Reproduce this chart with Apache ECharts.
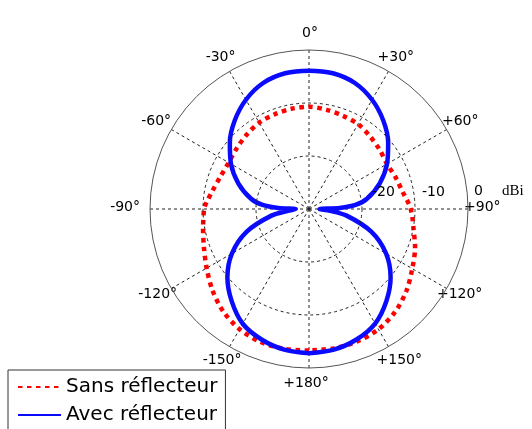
<!DOCTYPE html>
<html>
<head>
<meta charset="utf-8">
<script src="https://cdn.jsdelivr.net/npm/echarts@6/dist/echarts.min.js"></script>
<style>
  html, body { margin: 0; padding: 0; background: #fff; }
  #chart { width: 532px; height: 429px; }
</style>
</head>
<body>
<div id="chart"></div>
<script>
// Azimuth of each sample, degrees (0 = top, positive clockwise)
const angles = [-180, -170, -160, -150, -140, -130, -120, -110, -100, -95, -90, -88, -85, -80,
  -70, -60, -50, -40, -30, -20, -10, 0, 10, 20, 30, 40, 50, 60, 70, 80, 85, 88, 90, 95,
  100, 110, 120, 130, 140, 150, 160, 170, 180];

// Gain in dBi, without reflector
const sansReflecteur = [-3.3, -3.2, -3.3, -3.8, -4.8, -6.2, -7.7, -8.9, -9.7, -10.0, -10.2, -10.4, -10.8, -11.4,
  -12.2, -12.5, -12.2, -11.7, -11.2, -11.0, -10.8, -10.7, -11.0, -11.3, -11.5, -12.1, -12.6, -13.0, -12.6, -12.0, -11.4, -11.0, -10.8, -10.4,
  -10.0, -8.7, -7.5, -6.0, -4.7, -3.8, -3.4, -3.3, -3.3];

// Gain in dBi, with reflector
const avecReflecteur = [-2.77, -3.05, -3.8, -5.0, -7.3, -9.9, -13.2, -17.5, -22.8, -26.0, -27.5, -24.2, -21.2, -18.9,
  -15.8, -13.0, -10.5, -8.2, -6.2, -4.7, -4.0, -3.9, -4.0, -4.7, -6.2, -8.2, -10.5, -13.0, -15.8, -18.9, -21.2, -24.2, -28.0, -26.0,
  -22.8, -17.5, -13.2, -9.9, -7.3, -5.05, -3.8, -3.05, -2.77];

// Radial rings (dBi) and azimuth tick labels
const radialTicks = [-30, -20, -10, 0];
const angleTickLabels = ['0°', '+30°', '+60°', '+90°', '+120°', '+150°', '+180°', '-150°', '-120°', '-90°', '-60°', '-30°'];
const seriesNames = ['Sans réflecteur', 'Avec réflecteur'];

// The angle axis runs 90..450 clockwise from the right so that the radial
// axis (and its dBi labels) lies along +90°.
const toAxisAngle = d => (d < 90 ? d + 360 : d);
const toPairs = vals => angles.map((a, i) => [vals[i], toAxisAngle(a)]);

// Per-label offsets that centre each azimuth label on a ring just outside the plot
const labelPad = {
  '0°': [0, 0, 34, 2], '+30°': [0, 0, 28, 1], '-30°': [0, 6, 28, 0],
  '+60°': [0, 0, 13, 16], '-60°': [0, 21, 13, 0],
  '+90°': [0, 0, 3, 20], '-90°': [0, 34, 3, 0],
  '+120°': [10.5, 0, 0, 11], '-120°': [10.5, 15, 0, 0],
  '+150°': [27.5, 0, 0, 0], '-150°': [27.5, 0, 0, 0],
  '+180°': [32.5, 6, 0, 0]
};
const angleFont = { fontFamily: 'DejaVu Sans', fontSize: 14, color: '#000' };
const angleRich = {};
angleTickLabels.forEach((t, i) => {
  angleRich['a' + i] = Object.assign({ padding: labelPad[t] }, angleFont);
});
function angleLabel(v) {
  let d = ((v % 360) + 360) % 360;
  if (d > 180) d -= 360;
  const txt = d > 0 ? '+' + d + '°' : d + '°';
  const idx = angleTickLabels.indexOf(txt);
  return '{a' + idx + '|' + txt + '}';
}

const radFont = { fontFamily: 'DejaVu Sans', fontSize: 14, color: '#000' };
function radialLabel(v) {
  if (v === radialTicks[0]) return '';
  if (v === 0) return '{z|0}{u|dBi}';
  return '{r' + (-v) + '|' + v + '}';
}

const chart = echarts.init(document.getElementById('chart'), null, { renderer: 'canvas' });
chart.setOption({
  animation: false,
  backgroundColor: '#fff',
  polar: { center: [309, 209], radius: 159 },
  angleAxis: {
    type: 'value',
    min: 90,
    max: 450,
    interval: 30,
    startAngle: 0,
    clockwise: true,
    axisLine: { show: true, lineStyle: { color: '#555', width: 1 } },
    axisTick: { show: false },
    splitLine: { show: true, lineStyle: { color: '#222', width: 1, type: [3, 3] } },
    axisLabel: { margin: -24, formatter: angleLabel, rich: angleRich }
  },
  radiusAxis: {
    type: 'value',
    z: 10,
    min: radialTicks[0],
    max: radialTicks[radialTicks.length - 1],
    interval: 10,
    axisLine: { show: false },
    axisTick: { show: false },
    splitLine: {
      show: true,
      lineStyle: { color: ['#222', '#222', '#222', 'rgba(0,0,0,0)'], width: 1, type: [3, 3] }
    },
    axisLabel: {
      margin: 10,
      align: 'left',
      verticalAlign: 'bottom',
      formatter: radialLabel,
      rich: {
        r20: Object.assign({ padding: [0, 0, 0, 10] }, radFont),
        r10: Object.assign({ padding: [0, 0, 0, 7] }, radFont),
        z: Object.assign({ padding: [0, 0, 0, 6] }, radFont),
        u: { fontFamily: 'Liberation Serif', fontSize: 15, color: '#000', padding: [0, 0, 0, 19] }
      }
    }
  },
  legend: {
    orient: 'vertical',
    left: 8,
    top: 370,
    height: 120,
    data: seriesNames,
    itemWidth: 43,
    itemHeight: 14,
    itemGap: 8,
    padding: [7, 8, 14, 9],
    borderColor: '#333',
    borderWidth: 1,
    borderRadius: 0,
    backgroundColor: '#fff',
    itemStyle: { color: 'rgba(0,0,0,0)', borderWidth: 0 },
    textStyle: { fontFamily: 'DejaVu Sans', fontSize: 20, color: '#000' }
  },
  series: [
    {
      name: seriesNames[0],
      type: 'line',
      coordinateSystem: 'polar',
      data: toPairs(sansReflecteur),
      symbol: 'none',
      smooth: 0.3,
      clip: false,
      lineStyle: { color: '#ff0000', width: 4.5, type: [4.5, 4.5], cap: 'butt' },
      itemStyle: { color: '#ff0000' }
    },
    {
      name: seriesNames[1],
      type: 'line',
      coordinateSystem: 'polar',
      data: toPairs(avecReflecteur),
      symbol: 'none',
      smooth: 0.3,
      clip: false,
      lineStyle: { color: '#0a0aff', width: 4.5 },
      itemStyle: { color: '#0a0aff' }
    }
  ]
});
</script>
</body>
</html>
